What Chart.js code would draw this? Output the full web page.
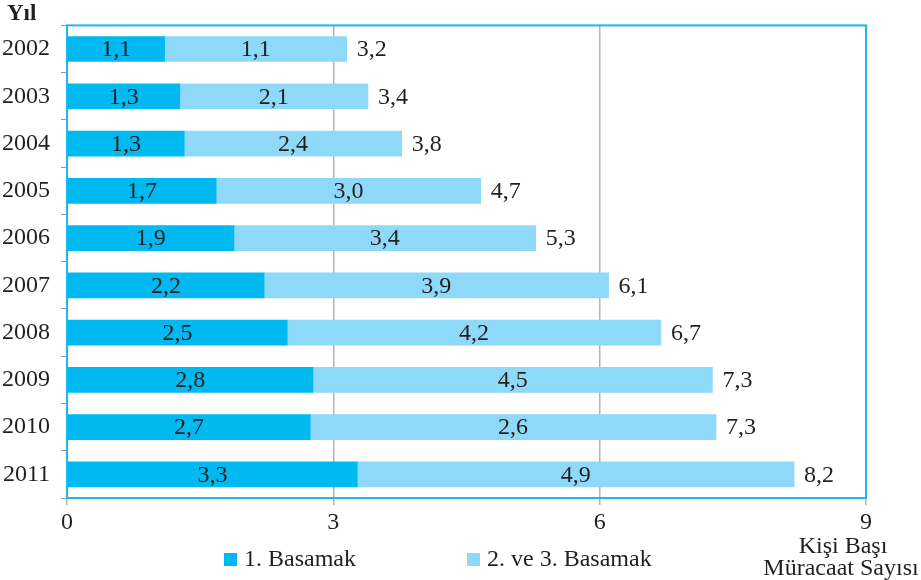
<!DOCTYPE html>
<html>
<head>
<meta charset="utf-8">
<script src="https://cdn.jsdelivr.net/npm/chart.js@4"></script>
<style>
  body { margin: 0; background: #fff; }
  canvas { display: block; }
</style>
</head>
<body>
<canvas id="chart" width="921" height="580"></canvas>
<script>
// years on the vertical axis
const years = ["2002", "2003", "2004", "2005", "2006", "2007", "2008", "2009", "2010", "2011"];
// 1. Basamak bar lengths as drawn
const firstLevel = [1.1, 1.27, 1.32, 1.68, 1.88, 2.22, 2.48, 2.77, 2.74, 3.27];
// 2. ve 3. Basamak bar lengths as drawn
const secondLevel = [2.05, 2.12, 2.45, 2.98, 3.4, 3.88, 4.21, 4.5, 4.57, 4.92];
// labels printed on the bars (as in the source, incl. its odd ones)
const firstLabels = ["1,1", "1,3", "1,3", "1,7", "1,9", "2,2", "2,5", "2,8", "2,7", "3,3"];
const secondLabels = ["1,1", "2,1", "2,4", "3,0", "3,4", "3,9", "4,2", "4,5", "2,6", "4,9"];
const totalLabels = ["3,2", "3,4", "3,8", "4,7", "5,3", "6,1", "6,7", "7,3", "7,3", "8,2"];
const xTicks = [0, 3, 6, 9];

const textColor = '#231f20';
const serif = '"Liberation Serif", "DejaVu Serif", serif';

// labels on the bars, legend and titles
const extras = {
    id: 'extras',
    afterDatasetsDraw(chart) {
        const c = chart.ctx;
        const area = chart.chartArea;
        c.save();
        // box round the plot area
        c.strokeStyle = '#1fb6ea';
        c.lineWidth = 2;
        c.strokeRect(area.left, area.top, area.right - area.left, area.bottom - area.top);

        c.fillStyle = textColor;
        c.font = '24px ' + serif;
        c.textBaseline = 'middle';
        const m0 = chart.getDatasetMeta(0);
        const m1 = chart.getDatasetMeta(1);
        m0.data.forEach((bar, i) => {
            c.textAlign = 'center';
            c.fillText(firstLabels[i], (bar.base + bar.x) / 2, bar.y + 1);
            const b2 = m1.data[i];
            c.fillText(secondLabels[i], (b2.base + b2.x) / 2, b2.y + 1);
            c.textAlign = 'left';
            c.fillText(totalLabels[i], b2.x + 10, b2.y + 1);
        });

        // "Yıl"
        c.font = 'bold 23px ' + serif;
        c.textAlign = 'left';
        c.fillText('Yıl', 7, 14);

        // axis title
        c.font = '24px ' + serif;
        c.textAlign = 'center';
        c.fillText('Kişi Başı', 843, 547);
        c.fillText('Müracaat Sayısı', 841, 569);

        // legend
        c.textAlign = 'left';
        const legendX = [224, 467];
        chart.data.datasets.forEach((ds, i) => {
            c.fillStyle = ds.backgroundColor;
            c.fillRect(legendX[i], 553, 13, 13);
            c.fillStyle = textColor;
            c.fillText(ds.label, legendX[i] + 20, 560);
        });
        c.restore();
    }
};

new Chart(document.getElementById('chart'), {
    type: 'bar',
    data: {
        labels: years,
        datasets: [
            { label: '1. Basamak', data: firstLevel, backgroundColor: '#00b9f1', barThickness: 25 },
            { label: '2. ve 3. Basamak', data: secondLevel, backgroundColor: '#8ed8f8', barThickness: 25 }
        ]
    },
    options: {
        indexAxis: 'y',
        responsive: false,
        animation: false,
        devicePixelRatio: 1,
        layout: { padding: { top: 24, right: 55, left: 0, bottom: 0 } },
        plugins: { legend: { display: false }, tooltip: { enabled: false } },
        scales: {
            x: {
                stacked: true,
                min: 0,
                max: 9,
                afterBuildTicks: s => { s.ticks = xTicks.map(v => ({ value: v })); },
                afterFit: s => { s.height = 82; },
                grid: { color: '#b3b3b3', lineWidth: 1.5, tickLength: 7 },
                border: { display: false },
                ticks: { color: textColor, font: { family: serif, size: 24 }, padding: 3 }
            },
            y: {
                stacked: true,
                afterFit: s => { s.width = 67; },
                grid: { drawOnChartArea: false, offset: true, tickLength: 6, color: '#999999' },
                border: { display: false },
                ticks: { color: textColor, font: { family: serif, size: 24 }, padding: 11 }
            }
        }
    },
    plugins: [extras]
});
</script>
</body>
</html>
